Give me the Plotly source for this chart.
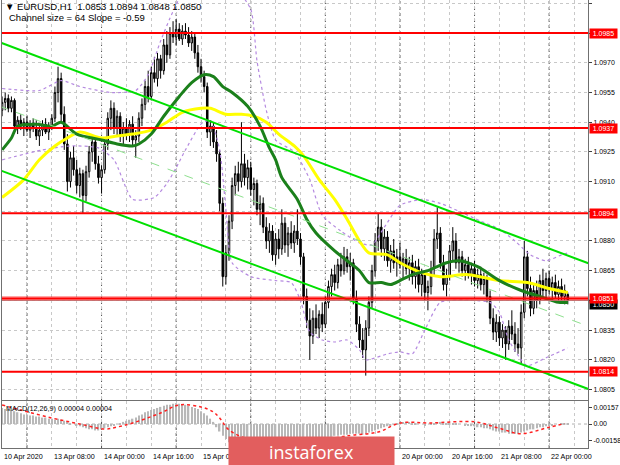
import plotly.graph_objects as go

# ---------------- data (EURUSD H1, bar index 0 = 10 Apr 16:00) ----------------
open_ = [1.0946,1.0950,1.0952,1.0947,1.0951,1.0938,1.0941,1.0938,1.0940,1.0936,
         1.0939,1.0937,1.0933,1.0936,1.0939,1.0935,1.0938,1.0942,1.0955,1.0962,
         1.0944,1.0929,1.0910,1.0922,1.0916,1.0908,1.0914,1.0903,1.0915,1.0925,
         1.0930,1.0919,1.0912,1.0916,1.0929,1.0942,1.0947,1.0937,1.0943,1.0933,
         1.0937,1.0934,1.0939,1.0931,1.0933,1.0942,1.0949,1.0958,1.0953,1.0965,
         1.0962,1.0972,1.0966,1.0979,1.0974,1.0985,1.0983,1.0987,1.0982,1.0986,
         1.0984,1.0980,1.0983,1.0975,1.0968,1.0963,1.0958,1.0935,1.0938,1.0930,
         1.0924,1.0899,1.0862,1.0874,1.0890,1.0908,1.0914,1.0910,1.0919,1.0912,
         1.0917,1.0906,1.0909,1.0896,1.0899,1.0887,1.0880,1.0885,1.0873,1.0881,
         1.0876,1.0889,1.0878,1.0884,1.0879,1.0885,1.0881,1.0872,1.0852,1.0840,
         1.0832,1.0841,1.0836,1.0843,1.0838,1.0849,1.0857,1.0863,1.0859,1.0868,
         1.0865,1.0872,1.0867,1.0869,1.0851,1.0838,1.0830,1.0825,1.0836,1.0849,
         1.0865,1.0880,1.0887,1.0876,1.0882,1.0870,1.0875,1.0869,1.0872,1.0868,
         1.0871,1.0866,1.0869,1.0862,1.0867,1.0858,1.0863,1.0854,1.0857,1.0866,
         1.0881,1.0884,1.0869,1.0858,1.0862,1.0875,1.0880,1.0869,1.0872,1.0865,
         1.0868,1.0863,1.0866,1.0860,1.0863,1.0858,1.0861,1.0852,1.0841,1.0834,
         1.0839,1.0831,1.0835,1.0828,1.0837,1.0833,1.0828,1.0826,1.0844,1.0872,
         1.0856,1.0846,1.0855,1.0850,1.0860,1.0855,1.0861,1.0856,1.0859,1.0853,
         1.0857,1.0852,1.0853]
high = [1.0953,1.0955,1.0954,1.0953,1.0952,1.0943,1.0944,1.0942,1.0943,1.0941,
        1.0942,1.0941,1.0938,1.0941,1.0942,1.0940,1.0944,1.0958,1.0968,1.0965,
        1.0948,1.0934,1.0925,1.0928,1.0921,1.0917,1.0916,1.0918,1.0928,1.0934,
        1.0933,1.0923,1.0918,1.0932,1.0945,1.0951,1.0950,1.0946,1.0945,1.0940,
        1.0942,1.0941,1.0943,1.0936,1.0945,1.0952,1.0961,1.0966,1.0968,1.0973,
        1.0975,1.0974,1.0982,1.0986,1.0988,1.0991,1.0992,1.0990,1.0989,1.0990,
        1.0988,1.0986,1.0985,1.0979,1.0972,1.0966,1.0960,1.0941,1.0940,1.0936,
        1.0926,1.0902,1.0878,1.0893,1.0912,1.0918,1.0920,1.0940,1.0924,1.0921,
        1.0920,1.0912,1.0911,1.0903,1.0902,1.0892,1.0889,1.0888,1.0884,1.0886,
        1.0896,1.0892,1.0887,1.0890,1.0888,1.0896,1.0884,1.0874,1.0856,1.0846,
        1.0845,1.0848,1.0845,1.0849,1.0852,1.0860,1.0866,1.0868,1.0871,1.0874,
        1.0877,1.0876,1.0874,1.0871,1.0855,1.0842,1.0836,1.0840,1.0852,1.0868,
        1.0884,1.0894,1.0891,1.0886,1.0885,1.0878,1.0881,1.0876,1.0879,1.0874,
        1.0876,1.0872,1.0873,1.0870,1.0871,1.0866,1.0865,1.0860,1.0870,1.0886,
        1.0897,1.0887,1.0873,1.0866,1.0878,1.0887,1.0884,1.0876,1.0875,1.0871,
        1.0872,1.0869,1.0870,1.0866,1.0867,1.0864,1.0863,1.0855,1.0846,1.0843,
        1.0842,1.0838,1.0837,1.0840,1.0845,1.0839,1.0836,1.0848,1.0880,1.0875,
        1.0862,1.0858,1.0860,1.0863,1.0866,1.0864,1.0865,1.0862,1.0863,1.0860,
        1.0861,1.0858,1.0854]
low = [1.0943,1.0946,1.0945,1.0945,1.0936,1.0934,1.0936,1.0933,1.0935,1.0932,
       1.0935,1.0931,1.0928,1.0933,1.0934,1.0931,1.0936,1.0940,1.0950,1.0940,
       1.0926,1.0905,1.0907,1.0913,1.0904,1.0902,1.0894,1.0900,1.0912,1.0920,
       1.0916,1.0909,1.0904,1.0914,1.0926,1.0936,1.0934,1.0933,1.0930,1.0929,
       1.0931,1.0930,1.0928,1.0922,1.0930,1.0938,1.0946,1.0950,1.0951,1.0960,
       1.0958,1.0962,1.0964,1.0970,1.0972,1.0980,1.0979,1.0981,1.0979,1.0982,
       1.0978,1.0976,1.0972,1.0965,1.0960,1.0955,1.0932,1.0928,1.0927,1.0920,
       1.0895,1.0857,1.0858,1.0870,1.0886,1.0903,1.0905,1.0907,1.0908,1.0906,
       1.0903,1.0898,1.0893,1.0888,1.0884,1.0876,1.0874,1.0870,1.0868,1.0871,
       1.0873,1.0874,1.0872,1.0876,1.0874,1.0878,1.0868,1.0848,1.0836,1.0820,
       1.0828,1.0833,1.0831,1.0834,1.0836,1.0846,1.0852,1.0855,1.0856,1.0862,
       1.0863,1.0864,1.0860,1.0848,1.0834,1.0826,1.0821,1.0812,1.0832,1.0846,
       1.0862,1.0875,1.0872,1.0870,1.0867,1.0864,1.0866,1.0862,1.0866,1.0861,
       1.0863,1.0860,1.0858,1.0856,1.0854,1.0852,1.0850,1.0845,1.0853,1.0862,
       1.0876,1.0866,1.0855,1.0852,1.0860,1.0870,1.0866,1.0864,1.0862,1.0860,
       1.0861,1.0858,1.0857,1.0856,1.0855,1.0853,1.0849,1.0838,1.0830,1.0829,
       1.0827,1.0826,1.0820,1.0825,1.0830,1.0824,1.0823,1.0818,1.0841,1.0852,
       1.0842,1.0843,1.0846,1.0848,1.0852,1.0851,1.0853,1.0850,1.0851,1.0849,
       1.0850,1.0848,1.0848]
close = [1.0950,1.0952,1.0947,1.0951,1.0938,1.0941,1.0938,1.0940,1.0936,1.0939,
         1.0937,1.0933,1.0936,1.0939,1.0935,1.0938,1.0942,1.0955,1.0962,1.0944,
         1.0929,1.0910,1.0922,1.0916,1.0908,1.0914,1.0903,1.0915,1.0925,1.0930,
         1.0919,1.0912,1.0916,1.0929,1.0942,1.0947,1.0937,1.0943,1.0933,1.0937,
         1.0934,1.0939,1.0931,1.0933,1.0942,1.0949,1.0958,1.0953,1.0965,1.0962,
         1.0972,1.0966,1.0979,1.0974,1.0985,1.0983,1.0987,1.0982,1.0986,1.0984,
         1.0980,1.0983,1.0975,1.0968,1.0963,1.0958,1.0935,1.0938,1.0930,1.0924,
         1.0899,1.0862,1.0874,1.0890,1.0908,1.0914,1.0910,1.0919,1.0912,1.0917,
         1.0906,1.0909,1.0896,1.0899,1.0887,1.0880,1.0885,1.0873,1.0881,1.0876,
         1.0889,1.0878,1.0884,1.0879,1.0885,1.0881,1.0872,1.0852,1.0840,1.0832,
         1.0841,1.0836,1.0843,1.0838,1.0849,1.0857,1.0863,1.0859,1.0868,1.0865,
         1.0872,1.0867,1.0869,1.0851,1.0838,1.0830,1.0825,1.0836,1.0849,1.0865,
         1.0880,1.0887,1.0876,1.0882,1.0870,1.0875,1.0869,1.0872,1.0868,1.0871,
         1.0866,1.0869,1.0862,1.0867,1.0858,1.0863,1.0854,1.0857,1.0866,1.0881,
         1.0884,1.0869,1.0858,1.0862,1.0875,1.0880,1.0869,1.0872,1.0865,1.0868,
         1.0863,1.0866,1.0860,1.0863,1.0858,1.0861,1.0852,1.0841,1.0834,1.0839,
         1.0831,1.0835,1.0828,1.0837,1.0833,1.0828,1.0826,1.0844,1.0872,1.0856,
         1.0846,1.0855,1.0850,1.0860,1.0855,1.0861,1.0856,1.0859,1.0853,1.0857,
         1.0852,1.0855,1.0850]

# moving averages (read at sample bars)
ma_slow_bar = [0,7,12,17,21,25,32,37,42,48,53,58,64,67,72,77,81,85,89,94,
               97,102,107,111,115,118,124,128,135,141,150,160,169,176,182]
ma_slow = [1.0902,1.0911,1.0921,1.0928,1.0932,1.0935,1.0932,1.0933,1.0934,1.0936,
           1.0940,1.0945,1.0947,1.0947,1.0944,1.0944,1.0943,1.0940,1.0934,1.0928,
           1.0923,1.0911,1.0901,1.0891,1.0880,1.0874,1.0873,1.0869,1.0864,1.0862,
           1.0863,1.0860,1.0859,1.0856,1.0854]
ma_fast_bar = [0,3,5,11,16,19,24,32,37,42,44,48,52,57,61,65,68,71,74,79,
               83,86,88,90,95,98,101,107,111,115,118,122,125,128,132,137,143,147,153,160,
               167,173,179,182]
ma_fast = [1.0926,1.0932,1.0938,1.0939,1.0938,1.0940,1.0934,1.0931,1.0929,1.0928,
           1.0929,1.0934,1.0943,1.0953,1.0960,1.0964,1.0963,1.0958,1.0955,1.0948,
           1.0938,1.0927,1.0921,1.0912,1.0901,1.0891,1.0884,1.0875,1.0870,1.0865,
           1.0859,1.0859,1.0858,1.0860,1.0863,1.0865,1.0869,1.0870,1.0867,1.0860,
           1.0855,1.0852,1.0849,1.0849]
bb_up_bar = [0,12,19,25,35,43,47,51,55,58,75,80,82,85,88,94,99,103,109,115,
             119,123,128,135,141,147,154,160,165,170,175,180,182]
bb_up = [1.0957,1.0956,1.0961,1.0958,1.0955,1.0956,1.0964,1.0981,1.0996,1.1004,
         1.1007,1.0997,1.0971,1.0946,1.0931,1.0925,1.0911,1.0893,1.0885,1.0879,
         1.0878,1.0887,1.0898,1.0901,1.0899,1.0895,1.0890,1.0886,1.0880,1.0873,
         1.0870,1.0873,1.0874]
bb_lo_bar = [0,13,22,31,36,42,49,53,56,59,64,67,70,72,74,80,88,93,96,99,
             103,107,111,115,117,124,128,132,136,141,151,157,160,163,167,169,175,182]
bb_lo = [1.0921,1.0926,1.0928,1.0927,1.0921,1.0901,1.0902,1.0909,1.0917,1.0926,
         1.0939,1.0941,1.0926,1.0896,1.0869,1.0862,1.0860,1.0859,1.0850,1.0834,
         1.0830,1.0829,1.0830,1.0825,1.0820,1.0823,1.0824,1.0823,1.0835,1.0849,
         1.0850,1.0849,1.0844,1.0830,1.0820,1.0817,1.0821,1.0826]

# regression channel (end points)
chan_bar = [-1, 189]
chan_upper = [1.09805, 1.08685]
chan_mid = [1.09482, 1.08367]
chan_lower = [1.09159, 1.08050]

# horizontal levels
levels = [1.0985, 1.0937, 1.0894, 1.0851, 1.0814]
level_labels = ["1.0985", "1.0937", "1.0894", "1.0851", "1.0814"]
bid = 1.0850

price_grid = [1.1000,1.0985,1.0970,1.0955,1.0940,1.0925,1.0910,1.0895,1.0880,
              1.0865,1.0850,1.0835,1.0820,1.0805]
price_text = ["1.1000","","1.0970","1.0955","1.0940","1.0925","1.0910","",
              "1.0880","1.0865","","1.0835","1.0820","1.0805"]

# MACD
macd_hist = [0.0015,0.0014,0.0014,0.0013,0.0012,0.0011,0.0010,
             0.0009,0.0009,0.0008,0.0008,0.0007,0.0007,0.0006,0.0006,0.0005,
             0.0005,0.0004,0.0005,0.0004,0.0003,0.0002,
             0.0001,0.0000,-0.0001,
             -0.0002,-0.0003,-0.0004,-0.0005,-0.0005,-0.0006,-0.0006,-0.0005,
             -0.0004,-0.0003,-0.0002,-0.0001,
             0.0000,0.0001,0.0002,0.0003,0.0004,0.0005,
             0.0006,0.0008,0.0009,0.0011,0.0012,
             0.0013,0.0014,0.0015,0.0016,0.0017,0.0018,0.0018,0.0019,
             0.0019,0.0019,0.0018,0.0018,0.0017,
             0.0016,0.0015,0.0014,0.0012,
             0.0010,0.0008,0.0005,0.0002,
             -0.0003,-0.0007,
             -0.0011,-0.0014,-0.0017,
             -0.0019,-0.0021,-0.0022,-0.0023,-0.0023,-0.0023,-0.0022,-0.0022,-0.0021,-0.0021,
             -0.0020,-0.0020,-0.0019,-0.0019,-0.0018,-0.0018,-0.0017,-0.0017,-0.0016,-0.0016,
             -0.0015,-0.0015,
             -0.0015,-0.0015,-0.0015,-0.0014,-0.0014,-0.0014,-0.0013,-0.0013,-0.0013,-0.0012,
             -0.0012,-0.0011,-0.0011,-0.0010,-0.0010,-0.0010,-0.0009,-0.0009,-0.0009,
             -0.0009,-0.0010,-0.0009,-0.0008,-0.0007,-0.0006,
             -0.0005,-0.0004,-0.0003,-0.0002,-0.0001,
             0.0000,0.0001,0.0002,0.0002,0.0002,
             0.0002,0.0001,0.0001,0.0000,0.0000,-0.0001,0.0000,0.0001,0.0001,0.0002,
             0.0002,0.0001,0.0001,0.0001,0.0001,0.0001,0.0000,
             0.0000,-0.0001,-0.0001,-0.0002,-0.0002,
             -0.0003,-0.0003,-0.0004,-0.0004,-0.0005,-0.0006,
             -0.0007,-0.0007,-0.0008,-0.0008,-0.0009,-0.0009,-0.0009,-0.0009,
             -0.0008,-0.0007,-0.0006,-0.0005,-0.0005,-0.0004,
             -0.0003,-0.0003,-0.0002,-0.0001,-0.0001,
             0.0000,0.0000,0.00003,0.00004,0.00004]
sig_bar = [0,6,16,25,33,37,42,51,57,64,68,70,73,80,86,93,102,109,113,121,
           128,138,152,160,167,176,181]
sig = [0.00178,0.00131,0.00056,0.0,-0.00047,-0.00028,0.00009,0.00103,0.00178,0.00159,
       0.00112,0.00056,-0.00056,-0.0015,-0.0019,-0.0021,-0.0017,-0.0012,-0.00103,-0.00075,
       0.00009,0.0001,0.0002,-0.0004,-0.0009,-0.0003,0.00004]
macd_ticks = [0.00157, 0.0, -0.00158]
macd_ticktext = ["0.00157", "0.00", "-0.00158"]

time_label_bar = [0, 16, 32, 48, 64, 128, 144, 160, 176]
time_labels = ["10 Apr 2020", "13 Apr 08:00", "14 Apr 00:00", "14 Apr 16:00",
               "15 Apr 08:00", "20 Apr 00:00", "20 Apr 16:00", "21 Apr 08:00", "22 Apr 00:00"]
day_start_bar = [8, 32, 56, 80, 104, 128, 152, 176]
grid_bar = list(range(0, 189, 8))

# ---------------- figure ----------------
W, H = 620, 465
XL, XR = 2 / W, 588 / W
FONT = "Liberation Sans"
bars = list(range(len(close)))

fig = go.Figure()
fig.add_trace(go.Candlestick(
    x=bars, open=open_, high=high, low=low, close=close,
    increasing=dict(line=dict(color="black", width=1), fillcolor="white"),
    decreasing=dict(line=dict(color="black", width=1), fillcolor="black"),
    whiskerwidth=0, hoverinfo="skip", xaxis="x", yaxis="y"))

for bx, by in ((bb_up_bar, bb_up), (bb_lo_bar, bb_lo)):
    fig.add_trace(go.Scatter(x=bx, y=by, mode="lines",
                             line=dict(color="#b58ae0", width=1.2, dash="dot", shape="spline", smoothing=0.6),
                             xaxis="x", yaxis="y", hoverinfo="skip"))
fig.add_trace(go.Scatter(x=ma_slow_bar, y=ma_slow, mode="lines",
                         line=dict(color="#ffff00", width=3, shape="spline", smoothing=0.8), xaxis="x", yaxis="y"))
fig.add_trace(go.Scatter(x=ma_fast_bar, y=ma_fast, mode="lines",
                         line=dict(color="#1b801b", width=3, shape="spline", smoothing=0.8), xaxis="x", yaxis="y"))
fig.add_trace(go.Scatter(x=chan_bar, y=chan_upper, mode="lines", line=dict(color="#00e000", width=2), xaxis="x", yaxis="y"))
fig.add_trace(go.Scatter(x=chan_bar, y=chan_lower, mode="lines", line=dict(color="#00e000", width=2), xaxis="x", yaxis="y"))
fig.add_trace(go.Scatter(x=chan_bar, y=chan_mid, mode="lines", line=dict(color="#8ee08e", width=1, dash="dash"), xaxis="x", yaxis="y"))

fig.add_trace(go.Bar(x=list(range(len(macd_hist))), y=macd_hist, marker=dict(color="#b8b8b8", line=dict(width=0)),
                     width=0.45, xaxis="x2", yaxis="y2", hoverinfo="skip"))
fig.add_trace(go.Scatter(x=sig_bar, y=sig, mode="lines", line=dict(color="#ff2020", width=1.5, dash="dot", shape="spline"),
                         xaxis="x2", yaxis="y2"))

shapes = []
for b in day_start_bar:
    shapes.append(dict(type="line", xref="x", yref="paper", x0=b, x1=b, y0=17 / H, y1=1,
                       line=dict(color="#505050", width=1, dash="dot"), layer="below"))
shapes.append(dict(type="line", xref="paper", yref="y2", x0=XL, x1=XR, y0=0, y1=0,
                   line=dict(color="#b0b0b0", width=1, dash="dot"), layer="below"))
shapes.append(dict(type="line", xref="paper", yref="y", x0=XL, x1=XR, y0=bid, y1=bid,
                   line=dict(color="#a8a8a8", width=1), layer="above"))
for lv in levels:
    if lv == 1.0851:
        shapes.append(dict(type="line", xref="paper", yref="y", x0=XL, x1=XR, y0=lv, y1=lv,
                           line=dict(color="rgba(255,0,0,0.35)", width=5), layer="above"))
    shapes.append(dict(type="line", xref="paper", yref="y", x0=XL, x1=XR, y0=lv, y1=lv,
                       line=dict(color="#ff0000", width=2), layer="above"))

ann = []
ann.append(dict(text="▼ EURUSD,H1  1.0853 1.0894 1.0848 1.0850", xref="paper", yref="paper",
                x=3 / W, y=(H - 7) / H, xanchor="left", yanchor="middle", showarrow=False,
                font=dict(family=FONT, size=9.5, color="black")))
ann.append(dict(text="Channel size = 64 Slope = -0.59", xref="paper", yref="paper",
                x=7 / W, y=(H - 18) / H, xanchor="left", yanchor="middle", showarrow=False,
                font=dict(family=FONT, size=9.5, color="black")))
ann.append(dict(text="MACD(12,26,9) 0.00004 0.00004", xref="paper", yref="paper",
                x=4 / W, y=(H - 408) / H, xanchor="left", yanchor="middle", showarrow=False,
                font=dict(family=FONT, size=7.2, color="black")))
for b, t in zip(time_label_bar, time_labels):
    ann.append(dict(text=t, xref="x2", yref="paper", x=b, y=(H - 456) / H, xanchor="left",
                    yanchor="middle", showarrow=False, font=dict(family=FONT, size=7.2, color="black")))
ann.append(dict(text="1.0850", xref="paper", yref="y", x=589 / W, y=1.0848, xanchor="left", yanchor="middle",
                showarrow=False, bgcolor="black", width=25, borderpad=1,
                font=dict(family=FONT, size=7, color="white")))
for lv, lt in zip(levels, level_labels):
    ann.append(dict(text=lt, xref="paper", yref="y", x=589 / W, y=lv, xanchor="left", yanchor="middle",
                    showarrow=False, bgcolor="#ff0000", width=25, borderpad=1,
                    font=dict(family=FONT, size=7, color="white")))
ann.append(dict(text="instaforex", xref="paper", yref="paper", x=228 / W, y=29 / H, xanchor="left",
                yanchor="top", showarrow=False, bgcolor="rgb(226,94,94)", width=165, height=29,
                borderpad=0, font=dict(family="Open Sans", size=18, color="white")))

axis_common = dict(showline=True, linecolor="#707070", linewidth=1, mirror=True, zeroline=False, fixedrange=True)
fig.update_layout(
    width=W, height=H, margin=dict(l=0, r=0, t=0, b=0),
    paper_bgcolor="white", plot_bgcolor="white", showlegend=False,
    shapes=shapes, annotations=ann,
    xaxis=dict(domain=[XL, XR], range=[-0.03, 188.5], anchor="y", tickvals=grid_bar, showticklabels=False,
               ticks="", showgrid=True, gridcolor="#c8c8c8", griddash="dot", gridwidth=1,
               rangeslider=dict(visible=False), **axis_common),
    yaxis=dict(domain=[65 / H, 1], range=[1.07997, 1.10017], side="right", anchor="x",
               tickvals=price_grid, ticktext=price_text, showgrid=True, gridcolor="#c8c8c8",
               griddash="dot", ticks="outside", ticklen=3, tickcolor="#404040",
               tickfont=dict(family=FONT, size=7, color="black"), **axis_common),
    xaxis2=dict(domain=[XL, XR], range=[-0.03, 188.5], anchor="y2", tickvals=grid_bar, showticklabels=False,
                ticks="", showgrid=True, gridcolor="#c8c8c8", griddash="dot", gridwidth=1, **axis_common),
    yaxis2=dict(domain=[17 / H, 64 / H], range=[-0.00224, 0.00215], side="right", anchor="x2",
                tickvals=macd_ticks, ticktext=macd_ticktext, showgrid=False, ticks="outside", ticklen=3,
                tickcolor="#404040", tickfont=dict(family=FONT, size=7, color="black"), **axis_common),
    bargap=0.5,
)

fig.write_html("out.html", config={"displayModeBar": False},
               post_script="document.body.style.margin='0px';document.body.style.overflow='hidden';")
